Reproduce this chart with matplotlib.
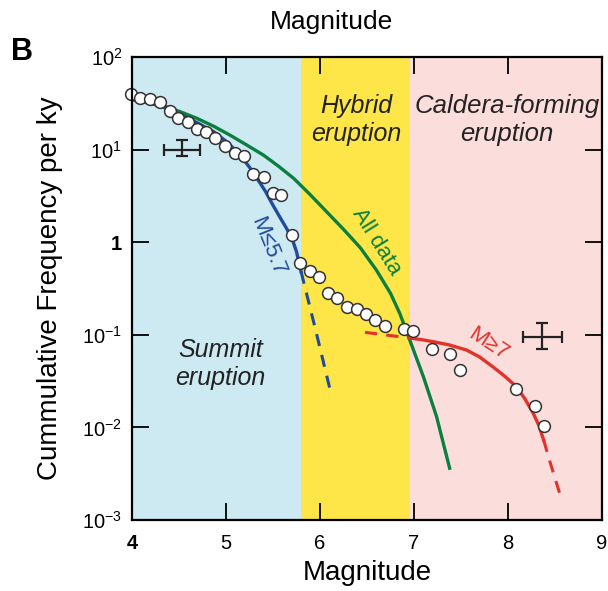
import matplotlib
matplotlib.use("Agg")
import matplotlib.pyplot as plt
import numpy as np

plt.rcParams['font.family'] = ['Liberation Sans', 'DejaVu Sans']
plt.rcParams['mathtext.fontset'] = 'custom'
plt.rcParams['mathtext.rm'] = 'Liberation Sans'

# Observed cumulative frequency (per ky) vs magnitude
obs_mag = [3.99, 4.085, 4.19, 4.30, 4.40, 4.49, 4.60, 4.69, 4.79, 4.88, 4.99, 5.10, 5.19,
           5.29, 5.40, 5.50, 5.59, 5.70, 5.79, 5.89, 5.99, 6.09, 6.18, 6.29, 6.39, 6.49,
           6.59, 6.69, 6.89, 6.99, 7.19, 7.38, 7.49, 8.09, 8.29, 8.38]
obs_freq = [39.5, 36.3, 34.9, 32.9, 26.1, 21.8, 20.0, 16.7, 15.6, 13.2, 10.9, 9.3, 8.5,
            5.5, 5.1, 3.4, 3.2, 1.2, 0.60, 0.49, 0.42, 0.28, 0.25, 0.20, 0.19, 0.166,
            0.144, 0.125, 0.117, 0.111, 0.071, 0.062, 0.042, 0.026, 0.017, 0.0103]

# "All data" fit (green): magnitude, log10 frequency
green_mag = [4.0, 4.17, 4.33, 4.51, 4.69, 4.87, 5.04, 5.22, 5.40, 5.56, 5.72, 5.89, 6.07,
             6.25, 6.43, 6.60, 6.75, 6.85, 6.95, 7.10, 7.24, 7.38]
green_log = [1.54, 1.515, 1.474, 1.41, 1.338, 1.252, 1.158, 1.05, 0.94, 0.82, 0.69, 0.52, 0.33,
             0.14, -0.06, -0.30, -0.55, -0.77, -1.04, -1.45, -1.88, -2.44]

# M<=5.7 fit (blue): solid part and dashed extrapolation
blue_mag = [4.0, 4.20, 4.37, 4.62, 4.87, 5.02, 5.15, 5.25, 5.33, 5.42, 5.50, 5.58, 5.65, 5.71, 5.75, 5.80]
blue_log = [1.54, 1.50, 1.446, 1.33, 1.193, 1.075, 0.942, 0.81, 0.69, 0.55, 0.40, 0.26, 0.14, 0.02, -0.10, -0.32]
blue_dash_mag = [5.80, 5.95, 6.11]
blue_dash_log = [-0.32, -0.93, -1.60]

# M>=7 fit (red): dashed, solid, dashed
red_dash1_mag = [6.48, 6.96]
red_dash1_log = [-0.973, -1.035]
red_mag = [6.96, 7.10, 7.21, 7.38, 7.56, 7.70, 7.84, 7.97, 8.09, 8.18, 8.27, 8.33, 8.38]
red_log = [-1.035, -1.055, -1.075, -1.11, -1.164, -1.24, -1.345, -1.45, -1.56, -1.69, -1.848, -1.98, -2.136]
red_dash2_mag = [8.38, 8.45, 8.55]
red_dash2_log = [-2.136, -2.38, -2.71]

# Representative error bars: center mag, freq, x-extent, y-extent
err_mag = [4.53, 8.36]
err_freq = [9.9, 0.095]
err_xlo = [4.34, 8.16]
err_xhi = [4.72, 8.57]
err_ylo = [8.5, 0.071]
err_yhi = [12.6, 0.135]

# Regime boundaries
regime_edges = [4.0, 5.8, 6.96, 9.0]
regime_colors = ['#cde9f1', '#fee648', '#fbdddb']
regime_labels = ['Summit\neruption', 'Hybrid\neruption', 'Caldera-forming\neruption']

fig = plt.figure(figsize=(6.08, 5.91), dpi=100)
fig.patch.set_facecolor('white')
ax = fig.add_axes([0.217, 0.120, 0.773, 0.7836])

for i in range(3):
    ax.axvspan(regime_edges[i], regime_edges[i + 1], color=regime_colors[i], lw=0, zorder=0)

green = '#0b7f3f'
blue = '#1f4d9e'
red = '#e2322a'

ax.plot(green_mag, 10 ** np.array(green_log), color=green, lw=2.4, zorder=2)
ax.plot(blue_mag, 10 ** np.array(blue_log), color=blue, lw=2.4, zorder=2)
ax.plot(blue_dash_mag, 10 ** np.array(blue_dash_log), color=blue, lw=2.2, ls=(0, (4, 3)), zorder=2)
ax.plot(red_dash1_mag, 10 ** np.array(red_dash1_log), color=red, lw=2.2, ls=(0, (4, 3)), zorder=2)
ax.plot(red_mag, 10 ** np.array(red_log), color=red, lw=2.4, zorder=2)
ax.plot(red_dash2_mag, 10 ** np.array(red_dash2_log), color=red, lw=2.2, ls=(0, (4, 3)), zorder=2)

ax.plot(obs_mag, obs_freq, 'o', ms=8.5, mfc='white', mec='#333333', mew=1.1, zorder=4, clip_on=False)

for i in range(len(err_mag)):
    ax.errorbar([err_mag[i]], [err_freq[i]],
                xerr=[[err_mag[i] - err_xlo[i]], [err_xhi[i] - err_mag[i]]],
                yerr=[[err_freq[i] - err_ylo[i]], [err_yhi[i] - err_freq[i]]],
                fmt='none', ecolor='#222222', elinewidth=1.6, capsize=4, capthick=1.6, zorder=3)

ax.set_yscale('log')
ax.set_xlim(4, 9)
ax.set_ylim(1e-3, 1e2)
ax.set_xticks([4, 5, 6, 7, 8, 9])
ax.set_xticklabels(['4', '5', '6', '7', '8', '9'])
ax.set_yticks([1e-3, 1e-2, 1e-1, 1, 10, 100])
ax.set_yticklabels([r'$10^{-3}$', r'$10^{-2}$', r'$10^{-1}$', '1', r'$10^{1}$', r'$10^{2}$'])
ax.get_xticklabels()[0].set_fontweight('bold')
ax.get_yticklabels()[3].set_fontweight('bold')
ax.minorticks_off()
ax.tick_params(direction='in', length=12, width=1.3, top=True, right=True, labelsize=14.5)
ax.tick_params(axis='x', pad=10)
ax.tick_params(axis='y', pad=7)
for sp in ax.spines.values():
    sp.set_linewidth(1.6)
    sp.set_zorder(5)

ax.set_xlabel('Magnitude', fontsize=20, labelpad=5)
ax.set_ylabel('Cummulative Frequency per ky', fontsize=20, labelpad=14)
fig.text(0.545, 0.962, 'Magnitude', fontsize=19, ha='center', va='center')
fig.text(0.036, 0.912, 'B', fontsize=22, fontweight='bold', ha='center', va='center')

ax.text(4.94, 0.048, regime_labels[0], fontsize=18, style='italic', ha='center', va='center', color='#222222')
ax.text(6.39, 21, regime_labels[1], fontsize=18, style='italic', ha='center', va='center', color='#222222')
ax.text(7.99, 21, regime_labels[2], fontsize=18.5, style='italic', ha='center', va='center', color='#222222')

ax.text(5.45, 0.89, 'M≤5.7', fontsize=16, color=blue, rotation=-68, ha='center', va='center')
ax.text(6.60, 1.0, 'All data', fontsize=16, color=green, rotation=-58, ha='center', va='center')
ax.text(7.79, 0.08, 'M≥7', fontsize=16, color=red, rotation=-33, ha='center', va='center')

fig.savefig('out.png', dpi=100)
